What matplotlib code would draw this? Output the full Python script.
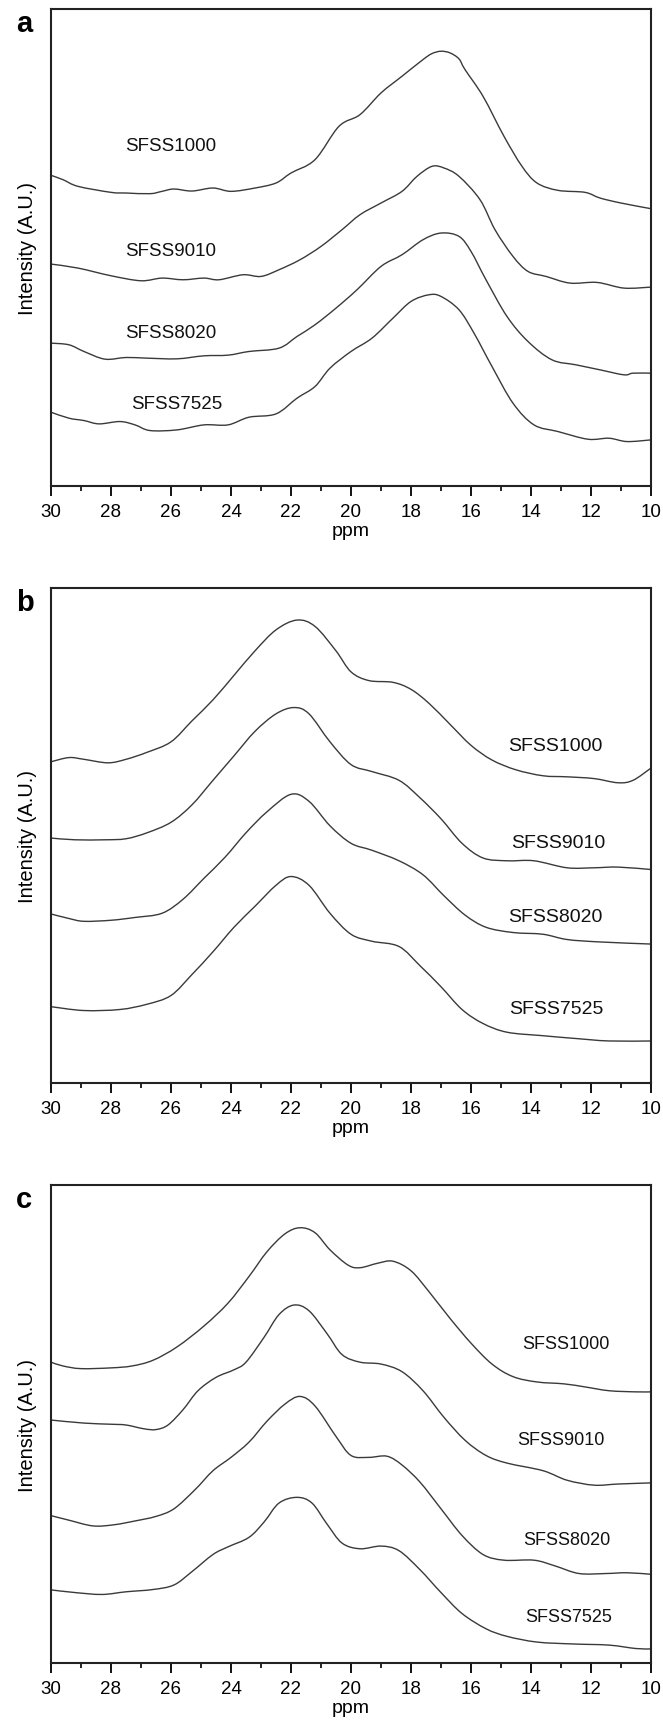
#!/usr/bin/env python3
"""Stacked 13C NMR-type spectra, panels a-c (SFSS blends)."""

import matplotlib
matplotlib.use('Agg')
import matplotlib.pyplot as plt
import numpy as np
from matplotlib.path import Path
from matplotlib.patches import PathPatch
from matplotlib.ticker import MultipleLocator

plt.rcParams['font.family'] = ['Liberation Sans', 'DejaVu Sans']

samples = ['SFSS1000', 'SFSS9010', 'SFSS8020', 'SFSS7525']

# ---- panel a (intensity in arbitrary units, ylim 0..1430)
a_ppm = {
    'SFSS1000': [30.0, 29.6, 29.1, 28.0, 27.5, 26.7, 26.3, 25.9, 25.3, 24.6, 24.0, 23.2, 22.5, 22.0, 21.2,
                 20.4, 19.7, 19.0, 18.3, 17.6, 17.3, 17.0, 16.7, 16.4, 16.2, 15.6, 14.9, 14.3, 13.8, 13.1,
                 12.2, 11.7, 11.0, 10.0],
    'SFSS9010': [30.0, 29.1, 28.0, 27.0, 26.3, 25.6, 24.9, 24.4, 23.6, 23.0, 22.4, 21.7, 21.0, 20.3, 19.7,
                 19.0, 18.3, 17.8, 17.3, 16.9, 16.4, 15.7, 15.2, 14.6, 14.1, 13.5, 12.7, 11.8, 10.9, 10.0],
    'SFSS8020': [30.0, 29.4, 28.9, 28.2, 27.5, 26.8, 25.8, 24.9, 24.1, 23.4, 22.4, 21.8, 21.2, 20.5, 19.8,
                 19.0, 18.3, 17.6, 17.0, 16.4, 16.0, 15.5, 14.8, 14.1, 13.3, 12.5, 11.7, 10.9, 10.6, 10.0],
    'SFSS7525': [30.0, 29.4, 28.9, 28.4, 27.7, 27.2, 26.7, 25.8, 24.9, 24.1, 23.4, 22.5, 21.8, 21.2, 20.7,
                 20.0, 19.3, 18.6, 18.0, 17.4, 17.0, 16.4, 15.9, 15.3, 14.6, 13.9, 13.1, 12.1, 11.4, 10.8, 10.0],
}
a_int = {
    'SFSS1000': [931, 918, 898, 880, 878, 876, 883, 890, 884, 893, 883, 893, 908, 938, 978,
                 1078, 1113, 1178, 1228, 1278, 1296, 1303, 1298, 1280, 1248, 1168, 1048, 958, 908, 886,
                 880, 863, 848, 831],
    'SFSS9010': [665, 653, 630, 615, 623, 618, 623, 618, 633, 628, 648, 678, 718, 768, 813,
                 848, 883, 928, 958, 953, 928, 858, 768, 688, 643, 628, 608, 610, 593, 596],
    'SFSS8020': [428, 423, 403, 380, 385, 383, 381, 390, 392, 403, 413, 448, 483, 533, 588,
                 658, 693, 738, 758, 748, 703, 618, 508, 433, 378, 363, 348, 333, 338, 338],
    'SFSS7525': [221, 203, 196, 186, 193, 183, 166, 168, 183, 183, 206, 216, 263, 298, 353,
                 403, 443, 503, 553, 573, 568, 528, 458, 358, 248, 183, 163, 140, 143, 133, 138],
}
a_label_pos = {'SFSS1000': (26.0, 0.714), 'SFSS9010': (26.0, 0.494),
               'SFSS8020': (26.0, 0.322), 'SFSS7525': (25.8, 0.172)}

# ---- panel b (ylim 0..1415)
b_ppm = {
    'SFSS1000': [30.0, 29.4, 28.9, 28.1, 27.5, 26.8, 26.0, 25.3, 24.6, 23.9, 23.2, 22.5, 21.8, 21.2, 20.5,
                 20.0, 19.4, 18.6, 18.0, 17.4, 16.7, 16.0, 15.3, 14.5, 13.6, 12.8, 11.9, 11.1, 10.6, 10.0],
    'SFSS9010': [30.0, 29.2, 28.2, 27.5, 26.8, 26.0, 25.3, 24.6, 23.9, 23.2, 22.5, 21.9, 21.4, 20.7, 20.0,
                 19.3, 18.4, 17.7, 17.0, 16.3, 15.6, 14.8, 13.9, 12.8, 11.9, 11.1, 10.0],
    'SFSS8020': [30.0, 29.4, 28.9, 28.0, 27.2, 26.3, 25.6, 24.9, 24.2, 23.5, 22.8, 22.0, 21.4, 20.7, 20.0,
                 19.3, 18.4, 17.6, 16.9, 16.2, 15.5, 14.6, 13.6, 12.8, 11.7, 10.0],
    'SFSS7525': [30.0, 28.9, 27.7, 26.8, 26.0, 25.3, 24.6, 23.9, 23.2, 22.5, 22.0, 21.4, 20.7, 20.0, 19.3,
                 18.4, 17.7, 17.0, 16.3, 15.6, 14.8, 13.6, 12.5, 11.4, 10.0],
}
b_int = {
    'SFSS1000': [918, 930, 925, 915, 925, 945, 975, 1035, 1095, 1165, 1235, 1295, 1323, 1305, 1235,
                 1175, 1150, 1145, 1125, 1085, 1025, 965, 923, 895, 878, 875, 870, 858, 865, 900],
    'SFSS9010': [700, 695, 695, 698, 715, 745, 795, 865, 935, 1005, 1055, 1073, 1055, 975, 910,
                 890, 865, 815, 755, 685, 643, 635, 635, 615, 615, 617, 610],
    'SFSS8020': [483, 470, 462, 465, 473, 485, 525, 585, 645, 715, 775, 825, 805, 735, 685,
                 665, 635, 595, 535, 480, 445, 430, 425, 410, 403, 397],
    'SFSS7525': [218, 207, 210, 225, 250, 310, 375, 445, 505, 565, 590, 565, 485, 425, 405,
                 390, 335, 275, 210, 170, 145, 135, 127, 120, 120],
}
b_label_pos = {'SFSS1000': (13.2, 0.681), 'SFSS9010': (13.1, 0.486),
               'SFSS8020': (13.2, 0.337), 'SFSS7525': (13.15, 0.150)}

# ---- panel c (ylim 0..1255)
c_ppm = {
    'SFSS1000': [30.0, 29.6, 29.0, 28.0, 27.3, 26.6, 25.8, 24.9, 24.1, 23.4, 22.8, 22.2, 21.7, 21.2, 20.7,
                 20.1, 19.7, 19.1, 18.6, 18.0, 17.4, 16.7, 16.0, 15.3, 14.6, 13.8, 12.9, 12.2, 11.4, 10.5, 10.0],
    'SFSS9010': [30.0, 28.9, 28.0, 27.5, 26.9, 26.5, 26.1, 25.6, 25.1, 24.5, 23.9, 23.5, 22.9, 22.4, 21.9,
                 21.4, 20.8, 20.3, 19.7, 19.0, 18.3, 17.6, 16.9, 16.2, 15.5, 14.8, 13.6, 12.8, 11.9, 11.1, 10.0],
    'SFSS8020': [30.0, 29.4, 28.6, 27.9, 27.2, 26.5, 25.9, 25.2, 24.6, 24.0, 23.4, 22.8, 22.2, 21.7, 21.2,
                 20.5, 20.0, 19.4, 18.8, 18.3, 17.7, 17.0, 16.3, 15.6, 14.9, 13.9, 13.2, 12.4, 11.5, 10.8, 10.0],
    'SFSS7525': [30.0, 29.2, 28.3, 27.5, 26.6, 25.9, 25.3, 24.6, 24.1, 23.4, 22.9, 22.4, 21.8, 21.3, 20.8,
                 20.3, 19.7, 19.0, 18.4, 17.7, 17.0, 16.3, 15.5, 14.8, 13.8, 12.6, 11.4, 10.5, 10.0],
}
c_int = {
    'SFSS1000': [790, 780, 773, 775, 780, 795, 830, 885, 945, 1015, 1080, 1127, 1143, 1130, 1085,
                 1045, 1038, 1050, 1055, 1030, 975, 905, 840, 785, 752, 738, 733, 725, 715, 712, 712],
    'SFSS9010': [638, 630, 627, 625, 615, 613, 625, 665, 715, 750, 770, 790, 855, 915, 940,
                 925, 865, 810, 790, 785, 765, 715, 645, 585, 545, 525, 505, 480, 467, 470, 473],
    'SFSS8020': [387, 375, 360, 363, 373, 385, 405, 455, 505, 540, 580, 635, 680, 700, 675,
                 595, 545, 540, 543, 520, 475, 405, 335, 285, 270, 270, 255, 235, 235, 237, 233],
    'SFSS7525': [192, 185, 180, 187, 193, 205, 240, 285, 305, 330, 370, 420, 435, 420, 365,
                 315, 300, 307, 295, 245, 185, 130, 90, 70, 55, 50, 47, 38, 37],
}
c_label_pos = {'SFSS1000': (12.85, 0.668), 'SFSS9010': (13.0, 0.468),
               'SFSS8020': (12.8, 0.259), 'SFSS7525': (12.75, 0.098)}

panels = [
    ('a', a_ppm, a_int, a_label_pos, 1430, [0.0769, 0.7187, 0.905, 0.2756], 13.5),
    ('b', b_ppm, b_int, b_label_pos, 1415, [0.0769, 0.3738, 0.905, 0.2860], 14),
    ('c', c_ppm, c_int, c_label_pos, 1255, [0.0769, 0.0387, 0.905, 0.2761], 13),
]


def smooth_path(x, y):
    # Catmull-Rom style Bezier through the read points (curve rendering only)
    p = np.column_stack([x, y]).astype(float)
    verts = [p[0]]
    codes = [Path.MOVETO]
    n = len(p)
    for i in range(n - 1):
        p0 = p[i - 1] if i > 0 else p[i]
        p3 = p[i + 2] if i + 2 < n else p[i + 1]
        c1 = p[i] + (p[i + 1] - p0) / 6.0
        c2 = p[i + 1] - (p3 - p[i]) / 6.0
        verts += [c1, c2, p[i + 1]]
        codes += [Path.CURVE4] * 3
    return Path(verts, codes)


fig = plt.figure(figsize=(6.63, 17.31), dpi=100)
line_col = '#3a3a3a'

for letter, ppm, inten, lpos, ymax, rect, lab_fs in panels:
    ax = fig.add_axes(rect)
    for s in samples:
        ax.add_patch(PathPatch(smooth_path(ppm[s], inten[s]), fill=False,
                               edgecolor=line_col, lw=1.0))
        x, yf = lpos[s]
        ax.text(x, yf, s, transform=ax.get_xaxis_transform(), ha='center', va='center',
                fontsize=lab_fs, color='#111111')
    ax.set_xlim(30, 10)
    ax.set_ylim(0, ymax)
    ax.xaxis.set_major_locator(MultipleLocator(2))
    ax.xaxis.set_minor_locator(MultipleLocator(1))
    ax.tick_params(axis='x', which='major', direction='out', length=7, width=1.3,
                   labelsize=13.5, pad=5)
    ax.tick_params(axis='x', which='minor', direction='out', length=3.5, width=1.2)
    ax.set_yticks([])
    for sp in ax.spines.values():
        sp.set_linewidth(1.5)
        sp.set_color('#222222')
    ax.set_xlabel('ppm', fontsize=14, labelpad=2)
    ax.set_ylabel('Intensity (A.U.)', fontsize=14.5, labelpad=10)
    ax.text(-0.058, 1.0, letter, transform=ax.transAxes, fontsize=21, fontweight='bold',
            ha='left', va='top')

plt.savefig('out.png', dpi=100)
plt.close()
